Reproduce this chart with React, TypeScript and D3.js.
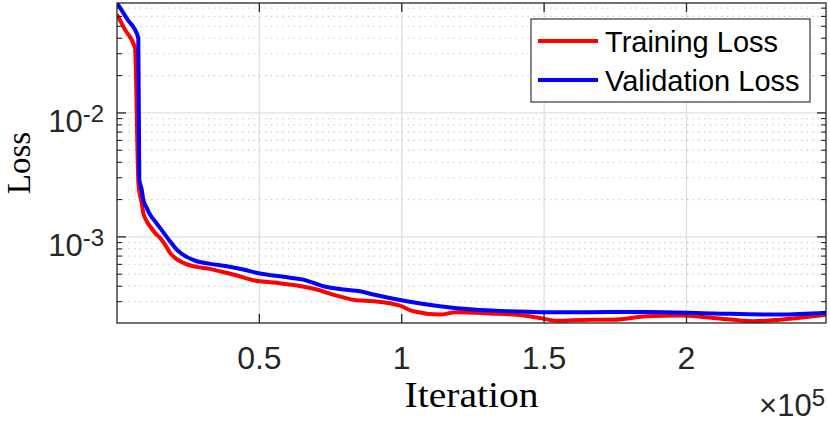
import * as d3 from "d3";

// Iterations and losses (semilog plot)
const trainIter = [0, 2810, 6320, 7551, 8675, 9237, 10430, 11590, 13346, 15102, 16858, 18614, 20370, 23285, 27991, 32662, 36180, 42040, 47870, 56090, 63110, 70130, 77160, 84010, 90010, 99370, 104030, 113440, 119100, 130820, 142680, 148560, 154430, 166110, 174300, 186030, 197550, 209420, 223460, 232840, 244540, 249000];
const trainLoss = [0.0621, 0.047, 0.0334, 0.00264, 0.00188, 0.00156, 0.001336, 0.001218, 0.001077, 0.000981, 0.000867, 0.000743, 0.000677, 0.000617, 0.000573, 0.000552, 0.000528, 0.000488, 0.000447, 0.000426, 0.000405, 0.000376, 0.000336, 0.000308, 0.000303, 0.000279, 0.000251, 0.000236, 0.000247, 0.000241, 0.000232, 0.000222, 0.000211, 0.000215, 0.000215, 0.000229, 0.000232, 0.000222, 0.000209, 0.000215, 0.000229, 0.000236];

const valIter = [0, 3512, 7480, 7832, 8675, 9237, 10430, 11590, 13346, 15102, 16858, 18614, 20967, 24479, 27991, 32662, 38527, 44360, 50220, 58400, 65340, 72470, 79480, 85340, 90010, 101740, 113440, 125130, 136870, 148560, 166110, 186030, 209420, 232840, 249000];
const valLoss = [0.0769, 0.0575, 0.0403, 0.0029, 0.00241, 0.002, 0.001713, 0.001513, 0.001336, 0.001182, 0.001043, 0.000922, 0.00079, 0.00069, 0.000636, 0.000606, 0.000579, 0.000545, 0.000506, 0.000476, 0.000452, 0.0004, 0.000376, 0.000364, 0.000343, 0.000303, 0.000276, 0.000259, 0.000251, 0.000247, 0.000247, 0.000248, 0.000241, 0.000236, 0.000244];

const xTicks = [0.5e5, 1e5, 1.5e5, 2e5];
const xTickLabels = ["0.5", "1", "1.5", "2"];
const yTicks = [1e-2, 1e-3];
const yTickExps = ["-2", "-3"];
const legendNames = ["Training Loss", "Validation Loss"];

const W = 830;
const H = 422;
const left = 117, right = 826, top = 3, bottom = 323;
const axisColor = "#262626";
const sans = "'Liberation Sans', Arial, Helvetica, sans-serif";
const serif = "'Liberation Serif', 'Times New Roman', serif";

export default function App() {
  const x = d3.scaleLinear().domain([0, 249000]).range([left, right]);
  const y = d3.scaleLog().domain([2.02e-4, 0.077]).range([bottom, top]);

  const minor: number[] = [];
  for (let e = -4; e <= -1; e++) {
    for (let m = 2; m <= 9; m++) {
      const v = m * Math.pow(10, e);
      if (v > y.domain()[0] && v < y.domain()[1]) minor.push(v);
    }
  }

  const line = d3.line<[number, number]>()
    .x(d => x(d[0]))
    .y(d => y(d[1]))
    .curve(d3.curveMonotoneX);
  const trainPath = line(trainIter.map((t, i) => [t, trainLoss[i]]));
  const valPath = line(valIter.map((t, i) => [t, valLoss[i]]));

  const colors = ["#ff0000", "#0000ff"];

  return (
    <svg width={W} height={H} style={{ position: "absolute", left: 0, top: 0, background: "#fff" }}>
      <defs>
        <clipPath id="plot-clip">
          <rect x={left} y={top} width={right - left} height={bottom - top} />
        </clipPath>
      </defs>
      <rect x={left} y={top} width={right - left} height={bottom - top} fill="#fff" />

      {/* minor grid (y only) */}
      {minor.map(v => (
        <line key={"mg" + v} x1={left} x2={right} y1={y(v)} y2={y(v)}
          stroke="#c4c4c4" strokeWidth={1.2} strokeDasharray="1.2 4.5" />
      ))}
      {/* major grid */}
      {yTicks.map(v => (
        <line key={"yg" + v} x1={left} x2={right} y1={y(v)} y2={y(v)} stroke="#dfdfdf" strokeWidth={1.3} />
      ))}
      {xTicks.map(v => (
        <line key={"xg" + v} x1={x(v)} x2={x(v)} y1={top} y2={bottom} stroke="#dfdfdf" strokeWidth={1.3} />
      ))}

      {/* data */}
      <g clipPath="url(#plot-clip)" fill="none" strokeWidth={4} strokeLinejoin="round">
        <path d={trainPath ?? ""} stroke={colors[0]} />
        <path d={valPath ?? ""} stroke={colors[1]} />
      </g>

      {/* axes box and ticks */}
      <rect x={left} y={top} width={right - left} height={bottom - top} fill="none" stroke={axisColor} strokeWidth={1.3} />
      {xTicks.map(v => (
        <g key={"xt" + v} stroke={axisColor} strokeWidth={1.3}>
          <line x1={x(v)} x2={x(v)} y1={bottom} y2={bottom - 9} />
          <line x1={x(v)} x2={x(v)} y1={top} y2={top + 9} />
        </g>
      ))}
      {yTicks.map(v => (
        <g key={"yt" + v} stroke={axisColor} strokeWidth={1.3}>
          <line x1={left} x2={left + 9} y1={y(v)} y2={y(v)} />
          <line x1={right} x2={right - 9} y1={y(v)} y2={y(v)} />
        </g>
      ))}
      {minor.map(v => (
        <g key={"ymt" + v} stroke={axisColor} strokeWidth={1.1}>
          <line x1={left} x2={left + 5} y1={y(v)} y2={y(v)} />
          <line x1={right} x2={right - 5} y1={y(v)} y2={y(v)} />
        </g>
      ))}

      {/* tick labels */}
      {xTicks.map((v, i) => (
        <text key={"xl" + v} x={x(v)} y={369} textAnchor="middle" fontFamily={sans} fontSize={32} fill={axisColor}>
          {xTickLabels[i]}
        </text>
      ))}
      {yTicks.map((v, i) => (
        <text key={"yl" + v} x={104} y={y(v) + 19} textAnchor="end" fontFamily={sans} fontSize={31} fill={axisColor}>
          10<tspan dy={-10} fontSize={24}>{yTickExps[i]}</tspan>
        </text>
      ))}
      <text x={825} y={416} textAnchor="end" fontFamily={sans} fontSize={31} fill={axisColor}>
        ×10<tspan dy={-10} fontSize={24}>5</tspan>
      </text>

      {/* axis labels */}
      <text x={(left + right) / 2} y={407} textAnchor="middle" fontFamily={serif} fontSize={35}
        textLength={134} lengthAdjust="spacingAndGlyphs" fill="#000">Iteration</text>
      <text transform={`translate(30,${(top + bottom) / 2}) rotate(-90)`} textAnchor="middle"
        fontFamily={serif} fontSize={33} fill="#000">Loss</text>

      {/* legend */}
      <rect x={531} y={19} width={279} height={83} fill="#fff" stroke={axisColor} strokeWidth={1.1} />
      {legendNames.map((name, i) => (
        <g key={name}>
          <line x1={538} x2={598} y1={41 + i * 39} y2={41 + i * 39} stroke={colors[i]} strokeWidth={4} />
          <text x={605} y={52 + i * 39} fontFamily={sans} fontSize={29} fill="#000">{name}</text>
        </g>
      ))}
    </svg>
  );
}
